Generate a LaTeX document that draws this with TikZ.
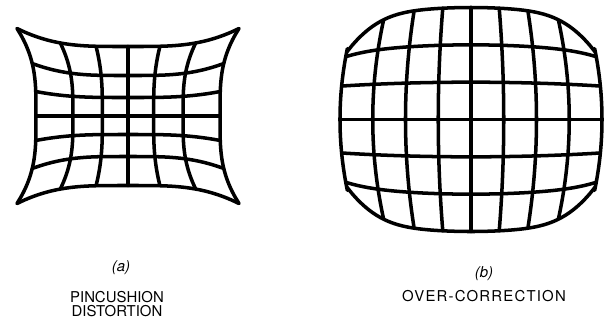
\documentclass[tikz,border=0pt]{standalone}
\usepackage{fontspec}
\setmainfont{TeX Gyre Heros}
\pgfmathdeclarefunction{pinx}{2}{\pgfmathparse{75*#1*(1+0.227*#1*#1+0.253*(#2*#2)*(#2*#2))}}
\pgfmathdeclarefunction{piny}{2}{\pgfmathparse{53.75*#2*(1+0.293*#2*#2+0.335*(#1*#1)*(#1*#1))}}
\pgfmathdeclarefunction{barv}{2}{\pgfmathparse{#2*(1-0.1*#1*#1-0.3*(#1*#1)^3*(#2*#2)^2)}}
\pgfmathdeclarefunction{barx}{2}{\pgfmathparse{131*#1*(1-0.14*barv(#1,#2)*barv(#1,#2))}}
\pgfmathdeclarefunction{bary}{2}{\pgfmathparse{112*barv(#1,#2)}}
\tikzset{gridline/.style={line width=2pt, line cap=round, line join=round}}
\begin{document}
\begin{tikzpicture}[x=0.02cm,y=-0.02cm,font=\fontsize{8.5}{8}\selectfont]
	\useasboundingbox (0,0) rectangle (610,329);
	
	% pincushion
	\foreach \u in {-1,-0.66667,-0.33333,0,0.33333,0.66667,1}{
		\draw[gridline] plot[smooth,domain=-1:1,samples=41] ({128+pinx(\u,\x)},{116+piny(\u,\x)});
		\draw[gridline] plot[smooth,domain=-1:1,samples=41] ({128+pinx(\x,\u)},{116+piny(\x,\u)});
	}
	
	% over-correction
	\foreach \u in {-1,-0.75,-0.5,-0.25,0,0.25,0.5,0.75,1}
		\draw[gridline] plot[smooth,domain=-1:1,samples=41] ({471+barx(\u,\x)},{119.5+bary(\u,\x)});
	\foreach \v in {-1,-0.66667,-0.33333,0,0.33333,0.66667,1}
		\draw[gridline] plot[smooth,domain=-1:1,samples=61] ({471+barx(\x,\v)},{119.5+bary(\x,\v)});
	
	\node (lbla) at (121,268) {\textit{(a)}};
	\node[align=center] (capa) at (117,304.5) {PINCUSHION\\DISTORTION};
	\node (lblb) at (484,274) {\textit{(b)}};
	\node (capb) at (484,296) {\addfontfeature{LetterSpace=8}OVER-CORRECTION};
\end{tikzpicture}
\end{document}
